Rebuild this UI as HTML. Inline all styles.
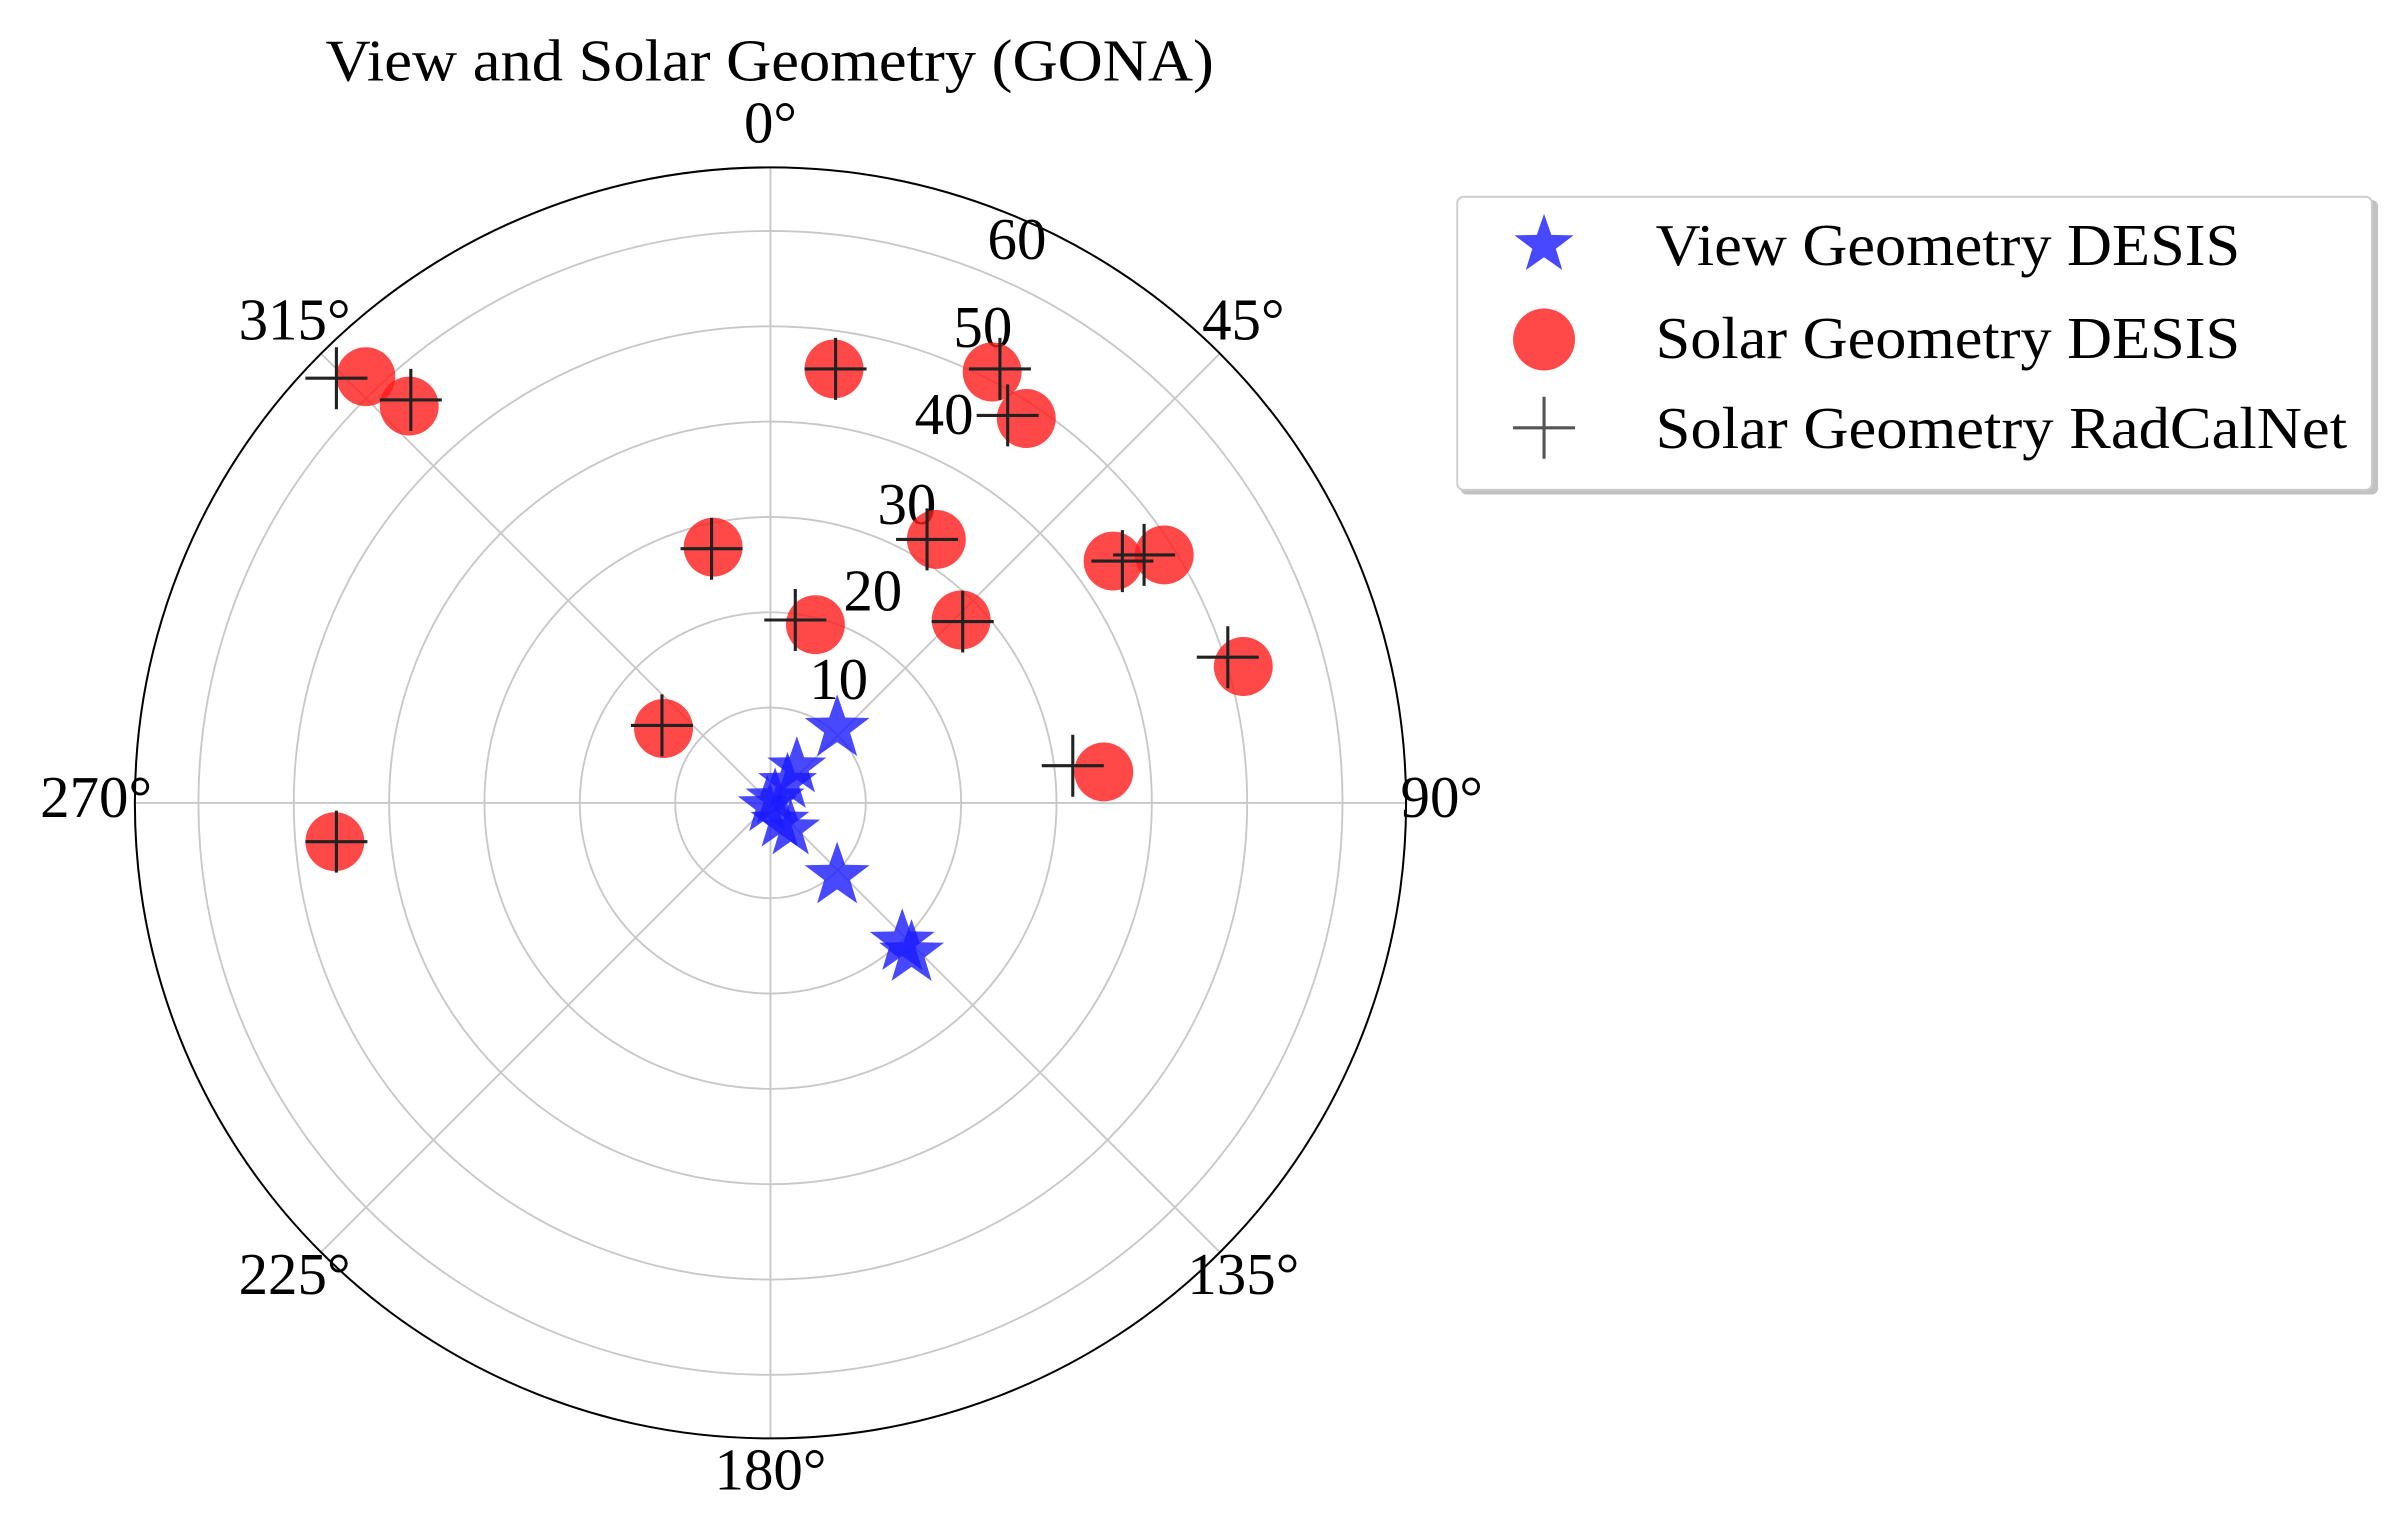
<!DOCTYPE html>
<html><head><meta charset="utf-8"><style>
html,body{margin:0;padding:0;background:#fff;}
svg{display:block;}
text{font-family:"Liberation Serif",serif;fill:#000;}
</style></head><body>
<svg width="2406" height="1519" viewBox="0 0 1552 980" preserveAspectRatio="none" xmlns="http://www.w3.org/2000/svg">
<defs>
<symbol id="st" viewBox="-1 -1 2 2" overflow="visible">
<polygon points="0,-1 0.235,-0.324 0.951,-0.309 0.38,0.124 0.588,0.809 0,0.4 -0.588,0.809 -0.38,0.124 -0.951,-0.309 -0.235,-0.324" fill="#1a1aff" fill-opacity="0.8"/>
</symbol>
</defs>
<text x="210" y="52" font-size="38" textLength="573" lengthAdjust="spacingAndGlyphs">View and Solar Geometry (GONA)</text>
<g fill="none" stroke="#c8c8c8" stroke-width="1.2">
<circle cx="497" cy="518" r="61.5"/><circle cx="497" cy="518" r="123"/><circle cx="497" cy="518" r="184.5"/>
<circle cx="497" cy="518" r="246"/><circle cx="497" cy="518" r="307.5"/><circle cx="497" cy="518" r="369"/>
<line x1="497" y1="108" x2="497" y2="928"/><line x1="87" y1="518" x2="907" y2="518"/>
<line x1="207" y1="228" x2="787" y2="808"/><line x1="787" y1="228" x2="207" y2="808"/>
</g>
<circle cx="497" cy="518" r="410" fill="none" stroke="#000" stroke-width="1.3"/>
<g font-size="38" text-anchor="middle">
<text x="497" y="92">0°</text><text x="802" y="219">45°</text><text x="930" y="527">90°</text>
<text x="802" y="835">135°</text><text x="497" y="961">180°</text><text x="190" y="835">225°</text>
<text x="62" y="527">270°</text><text x="190" y="219">315°</text>
<text x="541" y="451">10</text><text x="563" y="394">20</text><text x="585" y="338">30</text>
<text x="609" y="280">40</text><text x="634" y="224">50</text><text x="656" y="167">60</text>
</g>
<g fill="#ff1a1a" fill-opacity="0.8">
<circle cx="236" cy="243" r="19"/><circle cx="264" cy="262" r="19"/><circle cx="538" cy="238" r="19"/>
<circle cx="640" cy="240" r="19"/><circle cx="662" cy="270" r="19"/><circle cx="460" cy="353" r="19"/>
<circle cx="604" cy="348" r="19"/><circle cx="718" cy="362" r="19"/><circle cx="751" cy="358" r="19"/>
<circle cx="526" cy="403" r="19"/><circle cx="620" cy="400" r="19"/><circle cx="802" cy="430" r="19"/>
<circle cx="428" cy="470" r="19"/><circle cx="712" cy="498" r="19"/><circle cx="216" cy="543" r="19"/>
</g>
<g stroke="#222" stroke-width="2" fill="none">
<path d="M197 244h40M217 224v40 M245 258h40M265 238v40 M519 238h40M539 218v40 M625 238h40M645 218v40 M630 268h40M650 248v40 M439 354h40M459 334v40 M578 348h40M598 328v40 M704 362h40M724 342v40 M718 358h40M738 338v40 M493 400h40M513 380v40 M601 401h40M621 381v40 M772 424h40M792 404v40 M407 468h40M427 448v40 M672 494h40M692 474v40 M197 543h40M217 523v40"/>
</g>
<g>
<use href="#st" x="518" y="448" width="44" height="44"/>
<use href="#st" x="494" y="475" width="40" height="40"/>
<use href="#st" x="488" y="485" width="40" height="40"/>
<use href="#st" x="480" y="495" width="40" height="40"/>
<use href="#st" x="475" y="500" width="40" height="40"/>
<use href="#st" x="483" y="510" width="40" height="40"/>
<use href="#st" x="490" y="515" width="40" height="40"/>
<use href="#st" x="518" y="543" width="44" height="44"/>
<use href="#st" x="560" y="586" width="44" height="44"/>
<use href="#st" x="566" y="593" width="44" height="44"/>
</g>
<rect x="942" y="129" width="592" height="190" rx="4" fill="#999" opacity="0.6"/>
<rect x="940" y="127" width="590" height="189" rx="4" fill="#fff" stroke="#ccc" stroke-width="1.2"/>
<use href="#st" x="976" y="138" width="40" height="40"/>
<circle cx="996" cy="219" r="20" fill="#ff1a1a" fill-opacity="0.8"/>
<path d="M976 276h40M996 256v40" stroke="#555" stroke-width="2"/>
<g font-size="38">
<text x="1068" y="171" textLength="377" lengthAdjust="spacingAndGlyphs">View Geometry DESIS</text>
<text x="1068" y="231" textLength="377" lengthAdjust="spacingAndGlyphs">Solar Geometry DESIS</text>
<text x="1068" y="289" textLength="446" lengthAdjust="spacingAndGlyphs">Solar Geometry RadCalNet</text>
</g>
</svg>
</body></html>
